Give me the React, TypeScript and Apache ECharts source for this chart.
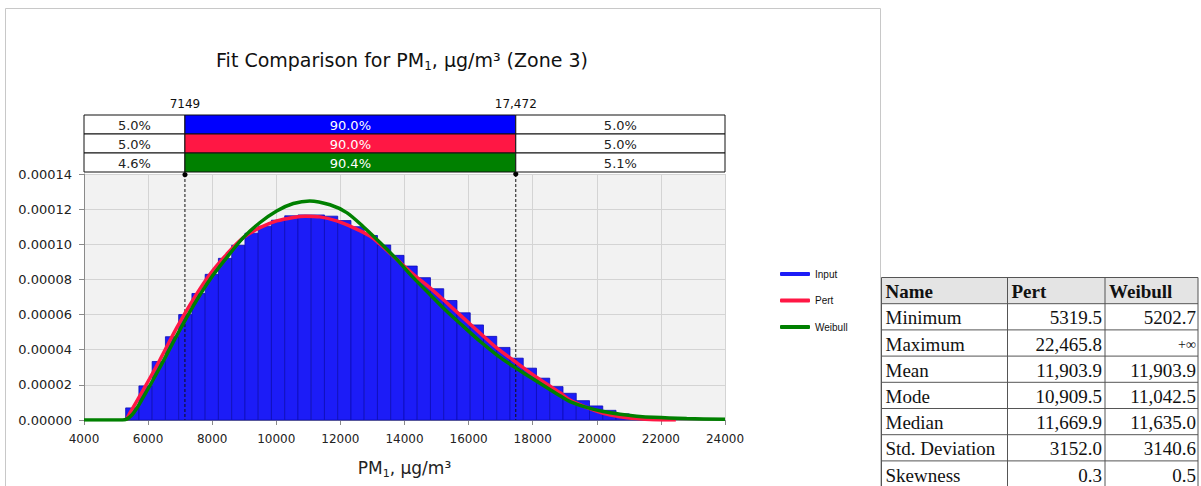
import React, { useEffect, useRef } from 'react';
import * as echarts from 'echarts';

// ---------- data ----------
const X_MIN = 4000;
const X_MAX = 24000;
const X_STEP = 2000;
const Y_MAX = 0.00014;
const Y_STEP = 0.00002;
const DENSITY_UNIT = 1e-5;

// histogram of the input (bins of equal width, heights in 1e-5)
const BIN_START = 5300;
const BIN_WIDTH = 413.5;
const inputDensity = [
  0.69, 1.94, 3.33, 4.74, 6.0, 7.2, 8.29, 9.2, 9.94, 10.63,
  11.03, 11.37, 11.62, 11.67, 11.67, 11.6, 11.35, 11.0, 10.5, 9.96,
  9.37, 8.76, 8.1, 7.47, 6.8, 6.1, 5.41, 4.76, 4.13, 3.52,
  2.95, 2.38, 1.9, 1.52, 1.1, 0.8, 0.55, 0.35, 0.2, 0.1, 0.04,
];

// fitted curves [x, density in 1e-5]
const pertCurve: [number, number][] = [
  [5319.5, 0], [5435, 0.4], [5850, 1.71], [6371, 3.43], [6892, 5.24],
  [7410, 6.86], [7931, 8.29], [8452, 9.43], [8970, 10.38], [9491, 10.95],
  [10012, 11.33], [10530, 11.53], [10909, 11.6], [11363, 11.56], [11884, 11.33],
  [12402, 10.95], [12923, 10.47], [13235, 10.0], [13757, 9.14], [14274, 8.29],
  [14795, 7.52], [15317, 6.67], [15834, 5.81], [16355, 4.95], [16877, 4.1],
  [17394, 3.4], [17915, 2.7], [18436, 2.05], [18852, 1.55], [19164, 1.14],
  [19685, 0.72], [20203, 0.38], [20724, 0.19], [21245, 0.08], [21765, 0.02],
  [22465.8, 0],
];
const weibullCurve: [number, number][] = [
  [4000, 0], [5202.7, 0], [5500, 0.3], [5850, 1.3], [6371, 3.0],
  [6892, 4.8], [7410, 6.5], [7931, 8.0], [8452, 9.24], [8970, 10.38],
  [9491, 11.24], [10012, 11.9], [10530, 12.32], [11042, 12.47], [11675, 12.25],
  [12196, 11.8], [12715, 11.0], [13235, 10.1], [13757, 9.14], [14274, 8.1],
  [14795, 7.14], [15317, 6.19], [15834, 5.33], [16355, 4.48], [16877, 3.71],
  [17394, 3.05], [17915, 2.45], [18436, 1.85], [18852, 1.38], [19164, 1.05],
  [19685, 0.72], [20203, 0.48], [20724, 0.33], [21245, 0.22], [21765, 0.15],
  [22806, 0.08], [24000, 0.04],
];

const seriesNames = ['Input', 'Pert', 'Weibull'];
const seriesColors = ['#1c1cf7', '#ff1744', '#008000'];
const bandColors = ['#0000ff', '#ff1744', '#008000'];

// percentile band
const markValues = [7149, 17472];
const markLabels = ['7149', '17,472'];
const bandLeft = ['5.0%', '5.0%', '4.6%'];
const bandMid = ['90.0%', '90.0%', '90.4%'];
const bandRight = ['5.0%', '5.0%', '5.1%'];

// statistics table
const statHeader = ['Name', 'Pert', 'Weibull'];
const statNames = ['Minimum', 'Maximum', 'Mean', 'Mode', 'Median', 'Std. Deviation', 'Skewness'];
const pertStats = ['5319.5', '22,465.8', '11,903.9', '10,909.5', '11,669.9', '3152.0', '0.3'];
const weibullStats = ['5202.7', '+∞', '11,903.9', '11,042.5', '11,635.0', '3140.6', '0.5'];

const SANS = "'DejaVu Sans', Verdana, sans-serif";
const SERIF = "'Liberation Serif', 'Times New Roman', serif";

export default function App() {
  const ref = useRef<HTMLDivElement>(null);

  useEffect(() => {
    if (!ref.current) return;
    const chart = echarts.init(ref.current, undefined, { renderer: 'svg' });

    const histData = inputDensity.map((d, i) => [
      BIN_START + i * BIN_WIDTH,
      BIN_START + (i + 1) * BIN_WIDTH,
      d * DENSITY_UNIT,
    ]);

    const option: any = {
      animation: false,
      backgroundColor: '#ffffff',
      color: seriesColors,
      grid: {
        left: 84, top: 174, width: 641, height: 246,
        show: true, backgroundColor: '#f2f2f2', borderWidth: 0,
        containLabel: false, outerBoundsMode: 'none',
      },
      legend: {
        orient: 'vertical', left: 775, top: 263,
        itemWidth: 30, itemHeight: 4, itemGap: 14.5,
        icon: 'roundRect', selectedMode: false,
        data: seriesNames,
        textStyle: { fontSize: 10, lineHeight: 12, fontFamily: "'Liberation Sans', Arial, sans-serif", color: '#111' },
      },
      xAxis: {
        type: 'value', min: X_MIN, max: X_MAX, interval: X_STEP,
        axisLine: { show: true, onZero: false, lineStyle: { color: '#8a8a8a' } },
        axisTick: { show: true, length: 5, lineStyle: { color: '#8a8a8a' } },
        axisLabel: {
          color: '#222', fontSize: 12, fontFamily: SANS, margin: 13,
          showMinLabel: true, showMaxLabel: true, formatter: (v: number) => String(v),
        },
        splitLine: { show: true, lineStyle: { color: '#d4d4d4' } },
        name: '{a|PM}{s|1}{a|, µg/m³}',
        nameLocation: 'middle', nameGap: 37,
        nameTextStyle: {
          rich: {
            a: { fontSize: 17, fontFamily: SANS, color: '#222', lineHeight: 22 },
            s: { fontSize: 11, fontFamily: SANS, color: '#222', lineHeight: 12, verticalAlign: 'bottom' },
          },
        },
      },
      yAxis: {
        type: 'value', min: 0, max: Y_MAX, interval: Y_STEP,
        axisLine: { show: true, lineStyle: { color: '#8a8a8a' } },
        axisTick: { show: true, length: 5, lineStyle: { color: '#8a8a8a' } },
        axisLabel: { color: '#222', fontSize: 13, fontFamily: SANS, margin: 12, formatter: (v: number) => v.toFixed(5) },
        splitLine: { show: true, lineStyle: { color: '#d4d4d4' } },
      },
      series: [
        {
          type: 'custom', name: 'Input', z: 2,
          itemStyle: { color: seriesColors[0] },
          encode: { x: [0, 1], y: 2 },
          data: histData,
          renderItem: (params: any, api: any) => {
            const p0 = api.coord([api.value(0), api.value(2)]);
            const p1 = api.coord([api.value(1), 0]);
            return {
              type: 'rect',
              shape: { x: p0[0], y: p0[1], width: p1[0] - p0[0], height: p1[1] - p0[1] },
              style: { fill: seriesColors[0], stroke: '#0c0cb8', lineWidth: 0.8 },
            };
          },
        },
        {
          type: 'custom', name: 'markers', z: 3, silent: true, clip: false,
          encode: { x: 0, y: 1 },
          data: markValues.map((v) => [v, 0]),
          renderItem: (params: any, api: any) => {
            const top = api.coord([api.value(0), Y_MAX]);
            const bot = api.coord([api.value(0), 0]);
            return {
              type: 'group',
              children: [
                { type: 'line', shape: { x1: top[0], y1: top[1], x2: bot[0], y2: bot[1] },
                  style: { stroke: '#111', lineWidth: 1, lineDash: [3, 2] } },
                { type: 'circle', shape: { cx: top[0], cy: top[1], r: 2.6 }, style: { fill: '#000' } },
              ],
            };
          },
        },
        {
          type: 'line', name: 'Pert', z: 4, symbol: 'none', smooth: 0.3,
          data: pertCurve.map(([x, d]) => [x, d * DENSITY_UNIT]),
          lineStyle: { color: seriesColors[1], width: 3.5 },
          itemStyle: { color: seriesColors[1] },
        },
        {
          type: 'line', name: 'Weibull', z: 5, symbol: 'none', smooth: 0.3,
          data: weibullCurve.map(([x, d]) => [x, d * DENSITY_UNIT]),
          lineStyle: { color: seriesColors[2], width: 3.5 },
          itemStyle: { color: seriesColors[2] },
        },
      ],
    };
    chart.setOption(option);

    const px = (v: number) => chart.convertToPixel({ xAxisIndex: 0 }, v) as number;
    const py = (v: number) => chart.convertToPixel({ yAxisIndex: 0 }, v) as number;

    const gl = px(X_MIN);
    const gr = px(X_MAX);
    const gTop = py(Y_MAX);
    const m1 = px(markValues[0]);
    const m2 = px(markValues[1]);
    const ROW_H = 19;
    const bandTop = gTop - 3 * ROW_H - 2;

    const g: any[] = [];
    // chart frame
    g.push({ type: 'rect', z: -10, shape: { x: 5.5, y: 8.5, width: 875, height: 500 },
      style: { fill: 'none', stroke: '#c8c8c8', lineWidth: 1 } });
    // title
    g.push({
      type: 'text', x: 402, y: 60, z: 10,
      style: {
        text: '{a|Fit Comparison for PM}{s|1}{a|, µg/m³ (Zone 3)}',
        align: 'center', verticalAlign: 'middle',
        rich: {
          a: { fontSize: 19, fontFamily: SANS, fill: '#111', lineHeight: 24 },
          s: { fontSize: 12, fontFamily: SANS, fill: '#111', lineHeight: 14, verticalAlign: 'bottom' },
        },
      },
    });
    // marker labels
    markLabels.forEach((t, i) => {
      g.push({ type: 'text', x: px(markValues[i]), y: 104, z: 10,
        style: { text: t, align: 'center', verticalAlign: 'middle', fontSize: 12, fontFamily: SANS, fill: '#111' } });
    });
    // band rows
    for (let r = 0; r < 3; r++) {
      const y = bandTop + r * ROW_H;
      g.push({ type: 'rect', z: 10, shape: { x: gl, y, width: m1 - gl, height: ROW_H },
        style: { fill: '#fff', stroke: '#111', lineWidth: 1 } });
      g.push({ type: 'rect', z: 10, shape: { x: m1, y, width: m2 - m1, height: ROW_H },
        style: { fill: bandColors[r], stroke: '#111', lineWidth: 1 } });
      g.push({ type: 'rect', z: 10, shape: { x: m2, y, width: gr - m2, height: ROW_H },
        style: { fill: '#fff', stroke: '#111', lineWidth: 1 } });
      g.push({ type: 'text', z: 11, x: (gl + m1) / 2, y: y + ROW_H / 2 + 0.5,
        style: { text: bandLeft[r], align: 'center', verticalAlign: 'middle', fontSize: 13, fontFamily: SANS, fill: '#222' } });
      g.push({ type: 'text', z: 11, x: (m1 + m2) / 2, y: y + ROW_H / 2 + 0.5,
        style: { text: bandMid[r], align: 'center', verticalAlign: 'middle', fontSize: 13, fontFamily: SANS, fill: '#fff' } });
      g.push({ type: 'text', z: 11, x: (m2 + gr) / 2, y: y + ROW_H / 2 + 0.5,
        style: { text: bandRight[r], align: 'center', verticalAlign: 'middle', fontSize: 13, fontFamily: SANS, fill: '#222' } });
    }
    // statistics table
    const colX = [881.5, 1007.5, 1105, 1198];
    const tTop = 277.5;
    const tRow = 26.2;
    const nRows = statNames.length + 1;
    g.push({ type: 'rect', z: 10, shape: { x: colX[0], y: tTop, width: colX[3] - colX[0], height: tRow },
      style: { fill: '#e4e4e4', stroke: 'none' } });
    for (let r = 0; r <= nRows; r++) {
      g.push({ type: 'line', z: 11, shape: { x1: colX[0], y1: tTop + r * tRow, x2: colX[3], y2: tTop + r * tRow },
        style: { stroke: '#555', lineWidth: 1 } });
    }
    colX.forEach((x) => {
      g.push({ type: 'line', z: 11, shape: { x1: x, y1: tTop, x2: x, y2: tTop + nRows * tRow },
        style: { stroke: '#555', lineWidth: 1 } });
    });
    statHeader.forEach((h, c) => {
      g.push({ type: 'text', z: 12, x: colX[c] + 4, y: tTop + tRow / 2 + 1,
        style: { text: h, align: 'left', verticalAlign: 'middle', fontSize: 19, fontWeight: 'bold', fontFamily: SERIF, fill: '#111' } });
    });
    statNames.forEach((n, i) => {
      const y = tTop + (i + 1) * tRow + tRow / 2 + 1;
      g.push({ type: 'text', z: 12, x: colX[0] + 4, y,
        style: { text: n, align: 'left', verticalAlign: 'middle', fontSize: 19, fontFamily: SERIF, fill: '#111' } });
      g.push({ type: 'text', z: 12, x: colX[2] - 3, y,
        style: { text: pertStats[i], align: 'right', verticalAlign: 'middle', fontSize: 19, fontFamily: SERIF, fill: '#111' } });
      g.push({ type: 'text', z: 12, x: colX[3] - 2, y,
        style: { text: weibullStats[i], align: 'right', verticalAlign: 'middle', fontSize: weibullStats[i] === '+∞' ? 14 : 19, fontFamily: SERIF, fill: '#111' } });
    });

    chart.setOption({ graphic: g });

    return () => chart.dispose();
  }, []);

  return (
    <div
      ref={ref}
      style={{ position: 'fixed', left: 0, top: 0, width: 1201, height: 486, background: '#fff' }}
    />
  );
}
